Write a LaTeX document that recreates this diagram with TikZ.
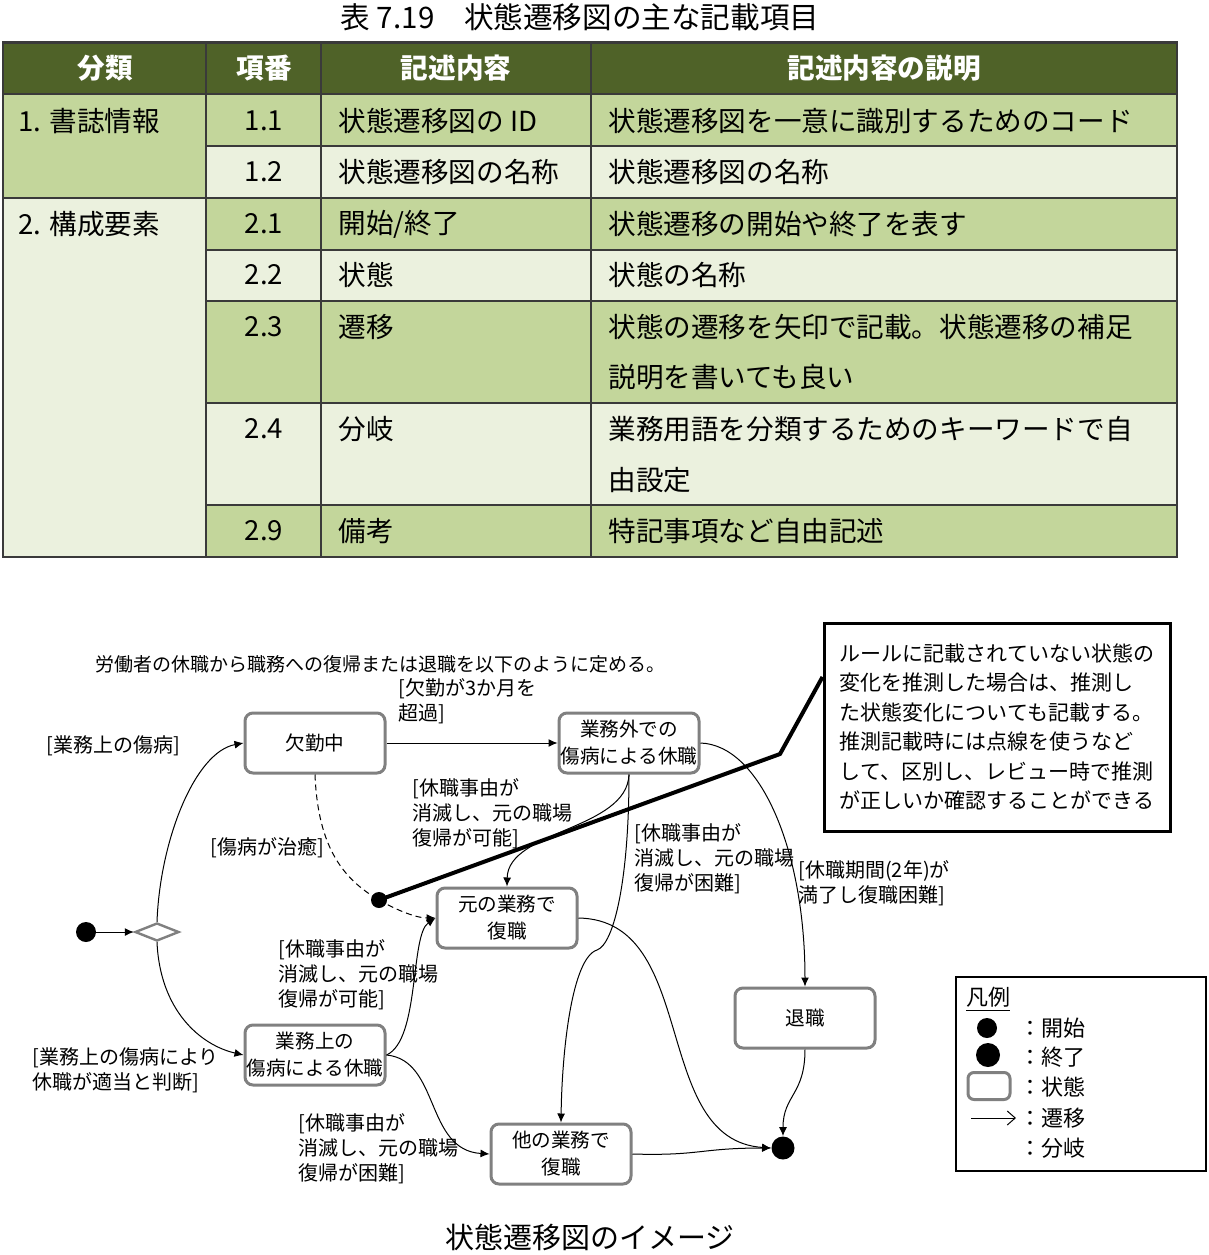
\documentclass[tikz,border=0pt]{standalone}
\usepackage{fontspec}
\setmainfont{Noto Sans CJK JP}
\usetikzlibrary{arrows.meta,shapes.geometric}
\tikzset{
  hyomoji/.style={inner sep=0pt, font=\fontsize{13.8pt}{16pt}\selectfont},
  midashi/.style={inner sep=0pt, text=white, font=\fontsize{13.8pt}{16pt}\selectfont\bfseries},
  hyosen/.style={draw=hyowaku, line width=1pt},
  jotai/.style={draw=jotaiwaku, fill=white, line width=1.5pt, rounded corners=4pt, minimum width=70pt, minimum height=30pt, align=center, inner sep=0pt, font=\fontsize{9.8pt}{13.5pt}\selectfont},
  joken/.style={anchor=west, align=left, inner sep=0pt, font=\fontsize{10pt}{12.5pt}\selectfont},
  senni/.style={-{Latex[length=4.5pt,width=4pt]}, line width=0.5pt},
  kaishi/.style={circle, fill=black, minimum size=10pt, inner sep=0pt},
  shuryo/.style={circle, fill=black, minimum size=11.5pt, inner sep=0pt},
  bunki/.style={diamond, draw=jotaiwaku, fill=white, line width=1.2pt, aspect=2.4, minimum width=22pt, minimum height=9pt, inner sep=0pt},
  memo/.style={draw, line width=1.5pt, minimum width=173pt, minimum height=104pt, align=left, inner sep=0pt, font=\fontsize{10.5pt}{14.7pt}\selectfont},
  hanreimoji/.style={anchor=west, inner sep=0pt, font=\fontsize{11pt}{13pt}\selectfont}
}
\begin{document}
\begin{tikzpicture}[x=0.5pt,y=-0.5pt]
\definecolor{hyoheader}{HTML}{4F6228}
\definecolor{hyokoi}{HTML}{C3D69B}
\definecolor{hyousui}{HTML}{EBF1DE}
\definecolor{hyowaku}{HTML}{3A3A3A}
\definecolor{jotaiwaku}{HTML}{808080}
\useasboundingbox (0,0) rectangle (1209,1255);
\fill[white] (0,0) rectangle (1209,1255);

\node[font=\fontsize{14.8pt}{17pt}\selectfont, inner sep=0pt] (hyotitle) at (580,17) {表 7.19　状態遷移図の主な記載項目};

\fill[hyoheader] (3,42) rectangle (1177,94);
\fill[hyokoi] (3,94) rectangle (206,198);
\fill[hyousui] (3,198) rectangle (206,557);
\foreach \ya/\yb/\iro in {94/146/hyokoi, 146/198/hyousui, 198/250/hyokoi, 250/301/hyousui, 301/403/hyokoi, 403/505/hyousui, 505/557/hyokoi}
  \fill[\iro] (206,\ya) rectangle (1177,\yb);
\draw[hyosen] (3,42) rectangle (1177,557);
\draw[hyosen, line width=1.5pt] (3,42) -- (1177,42);
\foreach \x in {206,321,591}
  \draw[hyosen] (\x,42) -- (\x,557);
\draw[hyosen] (3,94) -- (1177,94);
\draw[hyosen] (3,198) -- (1177,198);
\foreach \y in {146,250,301,403,505}
  \draw[hyosen] (206,\y) -- (1177,\y);

\node[midashi] (hbunrui) at (105,68) {分類};
\node[midashi] (hkoban) at (264,68) {項番};
\node[midashi] (hnaiyo) at (456,68) {記述内容};
\node[midashi] (hsetsumei) at (884,68) {記述内容の説明};

\node[hyomoji, anchor=west] (bunrui1) at (18,121) {1. 書誌情報};
\node[hyomoji, anchor=west] (bunrui2) at (18,224) {2. 構成要素};
\node[hyomoji] (koban11) at (264,121) {1.1};
\node[hyomoji] (koban12) at (264,172) {1.2};
\node[hyomoji] (koban21) at (264,224) {2.1};
\node[hyomoji] (koban22) at (264,275) {2.2};
\node[hyomoji] (koban23) at (264,327) {2.3};
\node[hyomoji] (koban24) at (264,429) {2.4};
\node[hyomoji] (koban29) at (264,531) {2.9};
\node[hyomoji, anchor=west] (naiyo11) at (338,121) {状態遷移図の ID};
\node[hyomoji, anchor=west] (naiyo12) at (338,172) {状態遷移図の名称};
\node[hyomoji, anchor=west] (naiyo21) at (338,224) {開始/終了};
\node[hyomoji, anchor=west] (naiyo22) at (338,275) {状態};
\node[hyomoji, anchor=west] (naiyo23) at (338,327) {遷移};
\node[hyomoji, anchor=west] (naiyo24) at (338,429) {分岐};
\node[hyomoji, anchor=west] (naiyo29) at (338,531) {備考};
\node[hyomoji, anchor=west] (setsu11) at (608,121) {状態遷移図を一意に識別するためのコード};
\node[hyomoji, anchor=west] (setsu12) at (608,172) {状態遷移図の名称};
\node[hyomoji, anchor=west] (setsu21) at (608,224) {状態遷移の開始や終了を表す};
\node[hyomoji, anchor=west] (setsu22) at (608,275) {状態の名称};
\node[hyomoji, anchor=west] (setsu23a) at (608,327) {状態の遷移を矢印で記載。状態遷移の補足};
\node[hyomoji, anchor=west] (setsu23b) at (608,377) {説明を書いても良い};
\node[hyomoji, anchor=west] (setsu24a) at (608,429) {業務用語を分類するためのキーワードで自};
\node[hyomoji, anchor=west] (setsu24b) at (608,480) {由設定};
\node[hyomoji, anchor=west] (setsu29) at (608,531) {特記事項など自由記述};

\node[anchor=west, inner sep=0pt, font=\fontsize{9.5pt}{12pt}\selectfont] (maegaki) at (95,664) {労働者の休職から職務への復帰または退職を以下のように定める。};

\node[jotai] (kekkin) at (315,743) {欠勤中};
\node[jotai] (gaimu) at (629,743) {業務外での\\傷病による休職};
\node[jotai] (genshoku) at (507,918) {元の業務で\\復職};
\node[jotai] (jomu) at (315,1055) {業務上の\\傷病による休職};
\node[jotai] (tagyomu) at (561,1154) {他の業務で\\復職};
\node[jotai] (taishoku) at (805,1018) {退職};
\node[kaishi] (start) at (86,932) {};
\node[bunki] (fork) at (157,932) {};
\node[shuryo] (final) at (783,1148) {};
\node[circle, fill=black, minimum size=8pt, inner sep=0pt] (suisoku) at (379,900) {};

\draw[senni] (start) -- (fork.west);
\draw[senni] (fork.north) .. controls (160,840) and (195,752) .. (kekkin.west);
\draw[senni] (fork.south) .. controls (160,1010) and (200,1045) .. (jomu.west);
\draw[senni] (kekkin.east) -- (gaimu.west);
\draw[dash pattern=on 3pt off 2pt, line width=0.5pt] (kekkin.south) .. controls (318,850) and (345,880) .. (suisoku.center);
\draw[senni, dash pattern=on 3pt off 2pt] (suisoku.center) .. controls (400,912) and (418,918) .. (genshoku.west);
\draw[senni] (gaimu.south) .. controls (627,830) and (508,830) .. (genshoku.north);
\draw[senni] (gaimu.south) .. controls (629,880) and (614,944) .. (597,950) .. controls (572,958) and (562,1050) .. (tagyomu.north);
\draw[senni] (gaimu.east) .. controls (760,745) and (805,850) .. (taishoku.north);
\draw[senni] (jomu.east) .. controls (420,1040) and (410,935) .. (genshoku.west);
\draw[senni] (jomu.east) .. controls (440,1060) and (425,1150) .. (tagyomu.west);
\draw[senni] (genshoku.east) .. controls (700,920) and (650,1140) .. (final.west);
\draw[senni] (taishoku.south) .. controls (805,1095) and (783,1095) .. (final.north);
\draw[senni] (tagyomu.east) .. controls (700,1156) and (700,1148) .. (final.west);

\node[joken] (jrosai) at (46,746) {[業務上の傷病]};
\node[joken] (jkekkin) at (398,701) {[欠勤が3か月を\\超過]};
\node[joken] (jgenka) at (412,814) {[休職事由が\\消滅し、元の職場\\復帰が可能]};
\node[joken] (jchiyu) at (210,848) {[傷病が治癒]};
\node[joken] (jtakon) at (634,859) {[休職事由が\\消滅し、元の職場\\復帰が困難]};
\node[joken] (jmanryo) at (798,883) {[休職期間(2年)が\\満了し復職困難]};
\node[joken] (jgenka2) at (278,975) {[休職事由が\\消滅し、元の職場\\復帰が可能]};
\node[joken] (jtekito) at (32,1070) {[業務上の傷病により\\休職が適当と判断]};
\node[joken] (jtakon2) at (298,1149) {[休職事由が\\消滅し、元の職場\\復帰が困難]};

\node[memo] (memo) at (997,727) {ルールに記載されていない状態の\\変化を推測した場合は、推測し\\た状態変化についても記載する。\\推測記載時には点線を使うなど\\して、区別し、レビュー時で推測\\が正しいか確認することができる};
\draw[line width=2pt] (suisoku.center) -- (780,754) -- (memo.164);

\draw[line width=1.2pt] (956,977) rectangle (1206,1171);
\node[hanreimoji] (hanrei) at (966,999) {\underline{凡例}};
\node[kaishi] (hkaishi) at (987,1028) {};
\node[shuryo, minimum size=12pt] (hshuryo) at (988,1055) {};
\node[draw=jotaiwaku, line width=1.5pt, rounded corners=3pt, minimum width=21pt, minimum height=13.5pt, inner sep=0pt] (hjotai) at (989,1086) {};
\coordinate (hyaa) at (971,1118);
\coordinate (hyab) at (1016,1118);
\draw[-{Straight Barb[length=4pt,width=7pt]}, line width=0.5pt] (hyaa) -- (hyab);
\node[hanreimoji] (tkaishi) at (1019,1028) {：開始};
\node[hanreimoji] (tshuryo) at (1019,1057) {：終了};
\node[hanreimoji] (tjotai) at (1019,1087) {：状態};
\node[hanreimoji] (tsenni) at (1019,1118) {：遷移};
\node[hanreimoji] (tbunki) at (1019,1148) {：分岐};

\node[font=\fontsize{14.5pt}{17pt}\selectfont, inner sep=0pt] (zucaption) at (590,1237) {状態遷移図のイメージ};
\end{tikzpicture}
\end{document}
